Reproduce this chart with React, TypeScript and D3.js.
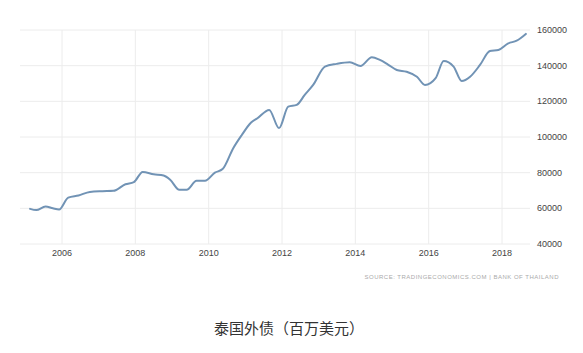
import React from "react";
import * as d3 from "d3";

const years = [
  2005.13, 2005.3, 2005.55, 2005.75, 2005.92, 2006.17, 2006.45, 2006.76, 2007.1, 2007.4, 2007.73, 2007.96,
  2008.2, 2008.5, 2008.77, 2008.95, 2009.2, 2009.4, 2009.67, 2009.9, 2010.17, 2010.38, 2010.67, 2010.9,
  2011.15, 2011.33, 2011.65, 2011.92, 2012.17, 2012.4, 2012.62, 2012.85, 2013.17, 2013.49, 2013.85, 2014.14,
  2014.45, 2014.67, 2014.9, 2015.13, 2015.4, 2015.68, 2015.9, 2016.19, 2016.41, 2016.68, 2016.9, 2017.13,
  2017.4, 2017.67, 2017.9, 2018.17, 2018.4, 2018.65,
];
const values = [
  59700, 59000, 61000, 60000, 59300, 66000, 67200, 69200, 69600, 69800, 73500, 74700,
  80400, 79100, 78400, 76000, 70400, 70400, 75400, 75400, 80000, 82000, 93700, 101000,
  108000, 110500, 115200, 105000, 117000, 118000, 123600, 129200, 139500, 141000, 141900, 139800,
  144700, 143200, 140500, 137600, 136600, 133800, 129200, 133000, 142600, 139500, 131400, 133800,
  140400, 148200, 148800, 152500, 154000, 157800,
];
const yTicks = [40000, 60000, 80000, 100000, 120000, 140000, 160000];
const xTicks = [2006, 2008, 2010, 2012, 2014, 2016, 2018];
const title = "泰国外债（百万美元）";
const source = "SOURCE: TRADINGECONOMICS.COM  |  BANK OF THAILAND";

export default function App() {
  const W = 583, H = 353;
  const x = d3.scaleLinear().domain([2006, 2018]).range([62, 502]);
  const y = d3.scaleLinear().domain([40000, 160000]).range([244, 30]);
  const left = 20, right = 530;
  const data = years.map((yr, i) => [yr, values[i]] as [number, number]);
  const line = d3
    .line<[number, number]>()
    .x((d) => x(d[0]))
    .y((d) => y(d[1]))
    .curve(d3.curveMonotoneX);
  const font = "'Liberation Sans', Arial, sans-serif";
  return (
    <svg
      width={W}
      height={H}
      style={{ position: "absolute", left: 0, top: 0, background: "#fff" }}
    >
      {yTicks.map((t) => (
        <line key={"h" + t} x1={left} x2={right} y1={y(t)} y2={y(t)} stroke="#ececec" strokeWidth={1} />
      ))}
      {xTicks.map((t) => (
        <line key={"v" + t} x1={x(t)} x2={x(t)} y1={y(160000)} y2={y(40000)} stroke="#ececec" strokeWidth={1} />
      ))}
      <path d={line(data) || ""} fill="none" stroke="#7193b5" strokeWidth={2} strokeLinejoin="round" strokeLinecap="round" />
      {yTicks.map((t) => (
        <text key={"yl" + t} x={537} y={y(t)} dy="0.35em" fontSize={9} fill="#444" fontFamily={font}>
          {t}
        </text>
      ))}
      {xTicks.map((t) => (
        <text key={"xl" + t} x={x(t)} y={256} textAnchor="middle" fontSize={9} fill="#444" fontFamily={font}>
          {t}
        </text>
      ))}
      <text x={559} y={279} textAnchor="end" fontSize={6} fill="#aaa" fontFamily={font} letterSpacing={0.5}>
        {source}
      </text>
      <text x={289} y={334} textAnchor="middle" fontSize={15} fill="#333" fontFamily="'Noto Sans CJK SC', sans-serif">
        {title}
      </text>
    </svg>
  );
}
